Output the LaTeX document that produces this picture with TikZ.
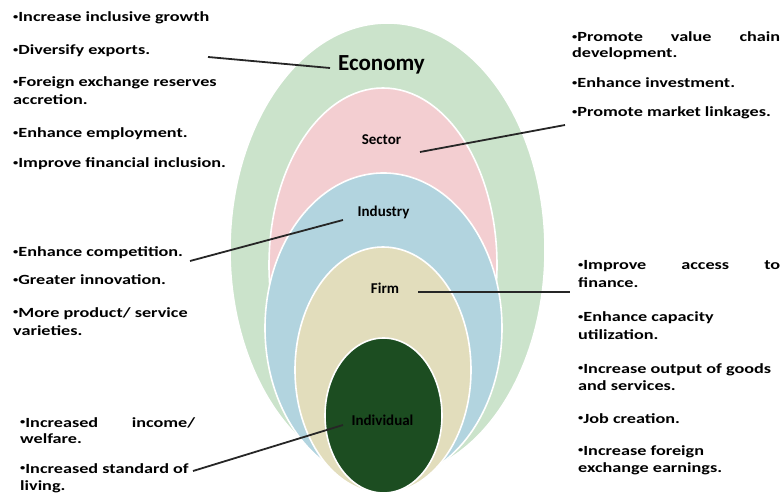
\documentclass[tikz,border=0pt]{standalone}
\usepackage{fontspec}
\setmainfont{Carlito}
\newfontfamily\listfont{Carlito}[FakeStretch=1.3]
\definecolor{econFill}{RGB}{203,227,203}
\definecolor{sectorFill}{RGB}{243,206,209}
\definecolor{industryFill}{RGB}{178,212,223}
\definecolor{firmFill}{RGB}{226,221,188}
\definecolor{indivFill}{RGB}{28,77,33}
% small raised bullet used in front of each goal
\newcommand\dotmark{\raisebox{0.35ex}{\fontsize{8}{8}\selectfont•}}
\begin{document}
\begin{tikzpicture}[x=1pt,y=-1pt,
  item/.style={anchor=base west, inner sep=0pt,
    font=\listfont\bfseries\fontsize{14}{17}\selectfont},
  tag/.style={inner sep=0pt, font=\bfseries\fontsize{15}{18}\selectfont},
  ring/.style={draw=white, line width=1.6pt},
  conn/.style={draw=black!85, line width=1.8pt}]
\useasboundingbox (0,0) rectangle (781,502);

% nested ovals, outermost first
\path[ring, fill=econFill]     (387.5,250)   ellipse [x radius=157.5pt, y radius=227pt];
\path[ring, fill=sectorFill]   (383,265)     ellipse [x radius=114pt,   y radius=177pt];
\path[ring, fill=industryFill] (383.5,328)   ellipse [x radius=118.5pt, y radius=155pt];
\path[ring, fill=firmFill]     (383,370)     ellipse [x radius=88pt,    y radius=123pt];
\path[ring, fill=indivFill]    (383.5,415.5) ellipse [x radius=58.5pt,  y radius=77.5pt];

% level labels
\node[tag, font=\bfseries\fontsize{23}{26}\selectfont] (econ) at (381.5,65) {Economy};
\node[tag] (sector)   at (381.5,140) {Sector};
\node[tag] (industry) at (383.5,212) {Industry};
\node[tag] (firm)     at (385,288)   {Firm};
\node[tag] (indiv)    at (382.5,420) {Individual};

% economy goals
\node[item] (a1)  at (13,22)  {\dotmark Increase inclusive growth};
\node[item] (a2)  at (13,55)  {\dotmark Diversify exports.};
\node[item] (a3)  at (13,87)  {\dotmark Foreign exchange reserves};
\node[item] (a3b) at (13,105) {accretion.};
\node[item] (a4)  at (13,138) {\dotmark Enhance employment.};
\node[item] (a5)  at (13,168) {\dotmark Improve financial inclusion.};

% industry goals
\node[item] (b1)  at (13,257) {\dotmark Enhance competition.};
\node[item] (b2)  at (13,285) {\dotmark Greater innovation.};
\node[item] (b3)  at (13,317) {\dotmark More product/ service};
\node[item] (b3b) at (13,335) {varieties.};

% individual goals
\node[item] (c1)  at (20,427) {\makebox[175pt][s]{\dotmark Increased income/}};
\node[item] (c1b) at (20,443) {welfare.};
\node[item] (c2)  at (20,473) {\dotmark Increased standard of};
\node[item] (c2b) at (20,490) {living.};

% sector goals
\node[item] (d1)  at (572,42)  {\makebox[208pt][s]{\dotmark Promote value chain}};
\node[item] (d1b) at (572,58)  {development.};
\node[item] (d2)  at (572,88)  {\dotmark Enhance investment.};
\node[item] (d3)  at (572,117) {\dotmark Promote market linkages.};

% firm goals
\node[item] (e1)  at (578,270) {\makebox[202pt][s]{\dotmark Improve access to}};
\node[item] (e1b) at (578,288) {finance.};
\node[item] (e2)  at (578,322) {\dotmark Enhance capacity};
\node[item] (e2b) at (578,339) {utilization.};
\node[item] (e3)  at (578,373) {\dotmark Increase output of goods};
\node[item] (e3b) at (578,390) {and services.};
\node[item] (e4)  at (578,423) {\dotmark Job creation.};
\node[item] (e5)  at (578,455) {\dotmark Increase foreign};
\node[item] (e5b) at (578,472) {exchange earnings.};

% leader lines
\coordinate (econEnd)     at (208,57);
\coordinate (sectorEnd)   at (565,125);
\coordinate (industryEnd) at (190,261);
\coordinate (firmEnd)     at (570,292);
\coordinate (indivEnd)    at (193,471);
\draw[conn] ([shift={(-51.5pt,-3pt)}]econ.center)    -- (econEnd);
\draw[conn] ([shift={(38.5pt,-12pt)}]sector.center)  -- (sectorEnd);
\draw[conn] ([shift={(-40.5pt,-8pt)}]industry.center) -- (industryEnd);
\draw[conn] ([shift={(33pt,-4pt)}]firm.center)       -- (firmEnd);
\draw[conn] ([shift={(-39.5pt,-5pt)}]indiv.center)   -- (indivEnd);
\end{tikzpicture}
\end{document}
